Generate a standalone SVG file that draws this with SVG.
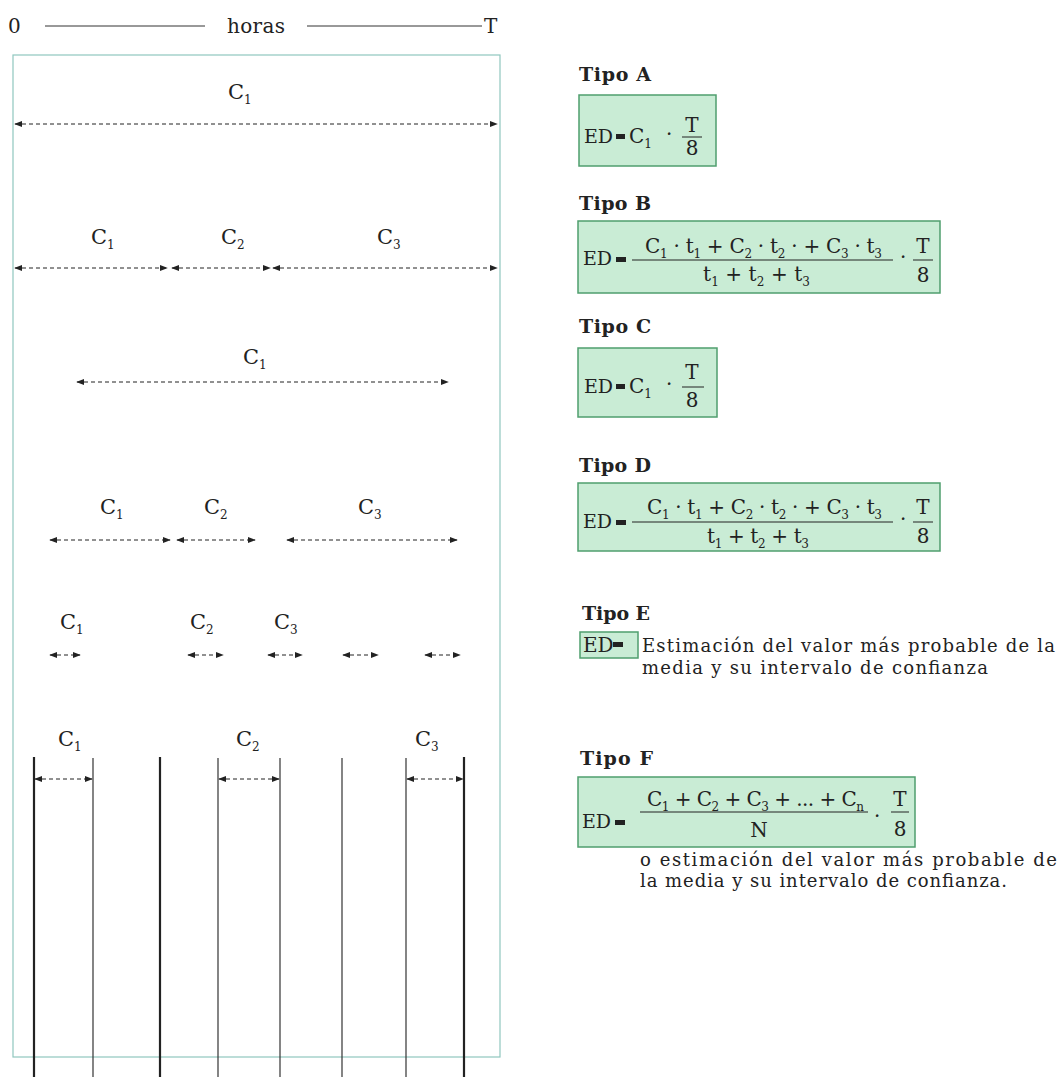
<svg xmlns="http://www.w3.org/2000/svg" width="1061" height="1080" viewBox="0 0 1061 1080">
<style>
text{font-family:"DejaVu Serif","Liberation Serif",serif;fill:#222;font-size:20px}
.lbl{font-size:21px}
.s{font-size:12px}
.ed{font-size:19px}
.body{font-size:18px}
.tipo{font-weight:bold;font-size:19px}
.box{fill:#c9ecd5;stroke:#4f9e6e;stroke-width:1.5}
.dash{stroke:#222;stroke-width:1;stroke-dasharray:4 3;fill:none;marker-start:url(#ah);marker-end:url(#ah)}
.thick{stroke:#222;stroke-width:2.2}
.thin{stroke:#333;stroke-width:1.2}
.frac{stroke:#222;stroke-width:1}
.eq{fill:#222}
</style>
<defs>
<marker id="ah" viewBox="0 0 10 10" refX="9" refY="5" markerWidth="8" markerHeight="8" markerUnits="userSpaceOnUse" orient="auto-start-reverse">
<path d="M0,1 L10,5 L0,9 z" fill="#222"/>
</marker>
</defs>
<rect width="1061" height="1080" fill="#fff"/>

<g id="axis">
<text x="8" y="33">0</text>
<line x1="45" y1="26" x2="205" y2="26" stroke="#333" stroke-width="1"/>
<text x="227" y="33" textLength="58" lengthAdjust="spacing">horas</text>
<line x1="307" y1="26" x2="482" y2="26" stroke="#333" stroke-width="1"/>
<text x="484" y="33">T</text>
</g>

<g id="frame">
<rect x="13" y="55" width="487" height="1002" fill="none" stroke="#8fc7bf" stroke-width="1.2"/>
</g>

<g id="labels-left">
<text x="228" y="99" class="lbl">C<tspan class="s" dy="5">1</tspan></text>
<text x="91" y="244" class="lbl">C<tspan class="s" dy="5">1</tspan></text>
<text x="221" y="244" class="lbl">C<tspan class="s" dy="5">2</tspan></text>
<text x="377" y="244" class="lbl">C<tspan class="s" dy="5">3</tspan></text>
<text x="243" y="364" class="lbl">C<tspan class="s" dy="5">1</tspan></text>
<text x="100" y="514" class="lbl">C<tspan class="s" dy="5">1</tspan></text>
<text x="204" y="514" class="lbl">C<tspan class="s" dy="5">2</tspan></text>
<text x="358" y="514" class="lbl">C<tspan class="s" dy="5">3</tspan></text>
<text x="60" y="629" class="lbl">C<tspan class="s" dy="5">1</tspan></text>
<text x="190" y="629" class="lbl">C<tspan class="s" dy="5">2</tspan></text>
<text x="274" y="629" class="lbl">C<tspan class="s" dy="5">3</tspan></text>
<text x="58" y="746" class="lbl">C<tspan class="s" dy="5">1</tspan></text>
<text x="236" y="746" class="lbl">C<tspan class="s" dy="5">2</tspan></text>
<text x="415" y="746" class="lbl">C<tspan class="s" dy="5">3</tspan></text>
</g>

<g id="verticals">
<line x1="34" y1="757" x2="34" y2="1077" class="thick"/>
<line x1="93" y1="758" x2="93" y2="1077" class="thin"/>
<line x1="160" y1="757" x2="160" y2="1077" class="thick"/>
<line x1="218" y1="758" x2="218" y2="1077" class="thin"/>
<line x1="280" y1="758" x2="280" y2="1077" class="thin"/>
<line x1="342" y1="758" x2="342" y2="1077" class="thin"/>
<line x1="406" y1="758" x2="406" y2="1077" class="thin"/>
<line x1="464" y1="757" x2="464" y2="1077" class="thick"/>
</g>

<g id="connectors">
<line x1="15" y1="124" x2="497" y2="124" class="dash"/>
<line x1="15" y1="268" x2="167" y2="268" class="dash"/>
<line x1="172" y1="268" x2="270" y2="268" class="dash"/>
<line x1="273" y1="268" x2="497" y2="268" class="dash"/>
<line x1="77" y1="382" x2="448" y2="382" class="dash"/>
<line x1="50" y1="540" x2="170" y2="540" class="dash"/>
<line x1="177" y1="540" x2="255" y2="540" class="dash"/>
<line x1="287" y1="540" x2="457" y2="540" class="dash"/>
<line x1="50" y1="655" x2="80" y2="655" class="dash"/>
<line x1="188" y1="655" x2="223" y2="655" class="dash"/>
<line x1="268" y1="655" x2="302" y2="655" class="dash"/>
<line x1="343" y1="655" x2="378" y2="655" class="dash"/>
<line x1="425" y1="655" x2="460" y2="655" class="dash"/>
<line x1="35" y1="779" x2="92" y2="779" class="dash"/>
<line x1="219" y1="779" x2="279" y2="779" class="dash"/>
<line x1="407" y1="779" x2="463" y2="779" class="dash"/>
</g>

<g id="tipo-a">
<text x="579" y="81" class="tipo" textLength="72" lengthAdjust="spacing">Tipo A</text>
<rect x="579" y="95" width="137" height="71" class="box"/>
<text x="584" y="143" class="ed">ED</text>
<rect x="616" y="134" width="9" height="5" class="eq"/>
<text x="629" y="143">C<tspan class="s" dy="5">1</tspan></text>
<text x="666" y="141">·</text>
<text x="692" y="132" text-anchor="middle">T</text>
<line x1="682" y1="137" x2="702" y2="137" class="frac"/>
<text x="692" y="155" text-anchor="middle">8</text>
</g>

<g id="tipo-b">
<text x="579" y="210" class="tipo" textLength="72" lengthAdjust="spacing">Tipo B</text>
<rect x="578" y="221" width="362" height="72" class="box"/>
<text x="583" y="265" class="ed">ED</text>
<rect x="616" y="257" width="10" height="5" class="eq"/>
<text x="645" y="253" textLength="237" lengthAdjust="spacing">C<tspan class="s" dy="5">1</tspan><tspan dy="-5"> · t</tspan><tspan class="s" dy="5">1</tspan><tspan dy="-5"> + C</tspan><tspan class="s" dy="5">2</tspan><tspan dy="-5"> · t</tspan><tspan class="s" dy="5">2</tspan><tspan dy="-5"> · + C</tspan><tspan class="s" dy="5">3</tspan><tspan dy="-5"> · t</tspan><tspan class="s" dy="5">3</tspan></text>
<line x1="632" y1="260" x2="893" y2="260" class="frac"/>
<text x="703" y="281" textLength="107" lengthAdjust="spacing">t<tspan class="s" dy="5">1</tspan><tspan dy="-5"> + t</tspan><tspan class="s" dy="5">2</tspan><tspan dy="-5"> + t</tspan><tspan class="s" dy="5">3</tspan></text>
<text x="900" y="264">·</text>
<text x="923" y="253" text-anchor="middle">T</text>
<line x1="913" y1="260" x2="933" y2="260" class="frac"/>
<text x="923" y="282" text-anchor="middle">8</text>
</g>

<g id="tipo-c">
<text x="579" y="333" class="tipo" textLength="72" lengthAdjust="spacing">Tipo C</text>
<rect x="578" y="348" width="139" height="69" class="box"/>
<text x="584" y="393" class="ed">ED</text>
<rect x="616" y="384" width="9" height="5" class="eq"/>
<text x="629" y="393">C<tspan class="s" dy="5">1</tspan></text>
<text x="666" y="391">·</text>
<text x="692" y="379" text-anchor="middle">T</text>
<line x1="682" y1="387" x2="704" y2="387" class="frac"/>
<text x="692" y="407" text-anchor="middle">8</text>
</g>

<g id="tipo-d">
<text x="579" y="472" class="tipo" textLength="72" lengthAdjust="spacing">Tipo D</text>
<rect x="578" y="483" width="362" height="68" class="box"/>
<text x="583" y="528" class="ed">ED</text>
<rect x="616" y="520" width="10" height="5" class="eq"/>
<text x="647" y="514" textLength="235" lengthAdjust="spacing">C<tspan class="s" dy="5">1</tspan><tspan dy="-5"> · t</tspan><tspan class="s" dy="5">1</tspan><tspan dy="-5"> + C</tspan><tspan class="s" dy="5">2</tspan><tspan dy="-5"> · t</tspan><tspan class="s" dy="5">2</tspan><tspan dy="-5"> · + C</tspan><tspan class="s" dy="5">3</tspan><tspan dy="-5"> · t</tspan><tspan class="s" dy="5">3</tspan></text>
<line x1="632" y1="522" x2="893" y2="522" class="frac"/>
<text x="707" y="543" textLength="102" lengthAdjust="spacing">t<tspan class="s" dy="5">1</tspan><tspan dy="-5"> + t</tspan><tspan class="s" dy="5">2</tspan><tspan dy="-5"> + t</tspan><tspan class="s" dy="5">3</tspan></text>
<text x="900" y="526">·</text>
<text x="923" y="514" text-anchor="middle">T</text>
<line x1="913" y1="522" x2="933" y2="522" class="frac"/>
<text x="923" y="543" text-anchor="middle">8</text>
</g>

<g id="tipo-e">
<text x="582" y="620" class="tipo" textLength="68" lengthAdjust="spacing">Tipo E</text>
<rect x="580" y="632" width="58" height="26" class="box"/>
<text x="583" y="652" font-size="17">ED</text>
<rect x="613" y="642" width="10" height="5" class="eq"/>
<text x="642" y="652" class="body" textLength="413" lengthAdjust="spacing">Estimación del valor más probable de la</text>
<text x="642" y="674" class="body" textLength="346" lengthAdjust="spacing">media y su intervalo de confianza</text>
</g>

<g id="tipo-f">
<text x="580" y="765" class="tipo" textLength="73" lengthAdjust="spacing">Tipo F</text>
<rect x="578" y="777" width="337" height="70" class="box"/>
<text x="582" y="828" class="ed">ED</text>
<rect x="615" y="820" width="10" height="5" class="eq"/>
<text x="647" y="806" textLength="217" lengthAdjust="spacing">C<tspan class="s" dy="5">1</tspan><tspan dy="-5"> + C</tspan><tspan class="s" dy="5">2</tspan><tspan dy="-5"> + C</tspan><tspan class="s" dy="5">3</tspan><tspan dy="-5"> + ... + C</tspan><tspan class="s" dy="5">n</tspan></text>
<line x1="640" y1="812" x2="868" y2="812" class="frac"/>
<text x="759" y="837" text-anchor="middle">N</text>
<text x="874" y="823">·</text>
<text x="900" y="806" text-anchor="middle">T</text>
<line x1="891" y1="812" x2="909" y2="812" class="frac"/>
<text x="900" y="836" text-anchor="middle">8</text>
<text x="640" y="866" class="body" textLength="417" lengthAdjust="spacing">o estimación del valor más probable de</text>
<text x="640" y="887" class="body" textLength="367" lengthAdjust="spacing">la media y su intervalo de confianza.</text>
</g>
</svg>
